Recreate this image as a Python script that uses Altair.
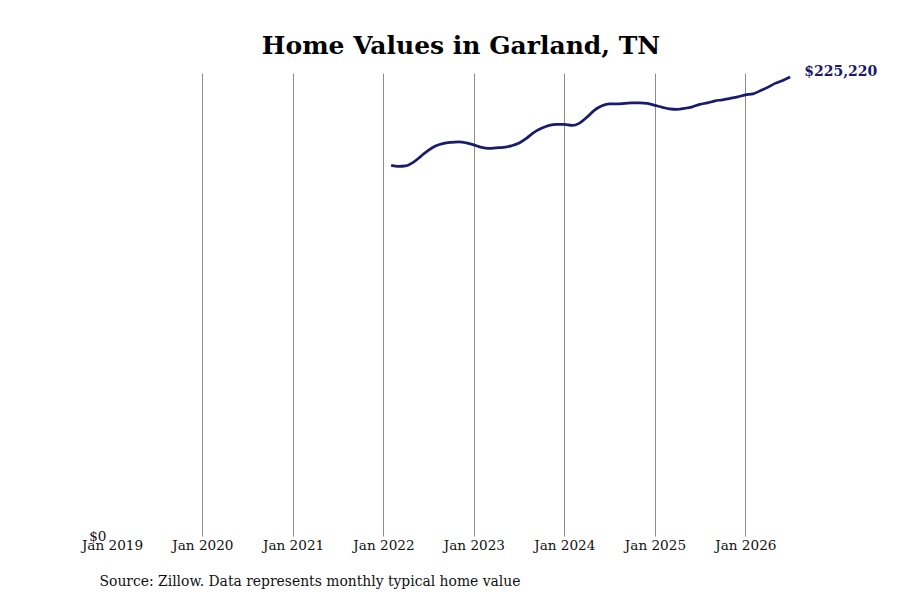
import altair as alt
import pandas as pd

# Monthly typical home values (Feb 2022 – Jul 2026)
months = [
    "2022-02", "2022-03", "2022-04", "2022-05", "2022-06", "2022-07", "2022-08", "2022-09",
    "2022-10", "2022-11", "2022-12",
    "2023-01", "2023-02", "2023-03", "2023-04", "2023-05", "2023-06", "2023-07", "2023-08",
    "2023-09", "2023-10", "2023-11", "2023-12",
    "2024-01", "2024-02", "2024-03", "2024-04", "2024-05", "2024-06", "2024-07", "2024-08",
    "2024-09", "2024-10", "2024-11", "2024-12",
    "2025-01", "2025-02", "2025-03", "2025-04", "2025-05", "2025-06", "2025-07", "2025-08",
    "2025-09", "2025-10", "2025-11", "2025-12",
    "2026-01", "2026-02", "2026-03", "2026-04", "2026-05", "2026-06", "2026-07",
]
values = [
    181900, 181410, 181660, 183370, 186310, 189250, 191460, 192690,
    193180, 193420, 192930,
    191950, 190720, 190230, 190480, 190720, 191460, 192690, 195140,
    198080, 200040, 201510, 202000,
    202000, 201510, 202500, 205440, 208870, 211080, 212060, 212060,
    212300, 212550, 212550, 212300,
    211320, 210340, 209600, 209360, 209850, 210590, 211810, 212550,
    213530, 214020, 214760, 215490,
    216470, 216960, 218430, 220150, 222110, 223570, 225220,
]
tick_years = [2019, 2020, 2021, 2022, 2023, 2024, 2025, 2026]

title_text = "Home Values in Garland, TN"
source_text = "Source: Zillow. Data represents monthly typical home value"
serif = "DejaVu Serif"
navy = "#1a1a6e"

df = pd.DataFrame({"date": [m + "-01T00:00:00" for m in months], "value": values})
last = df.tail(1).copy()
last["label"] = last["value"].map(lambda v: f"${v:,.0f}")

x_enc = alt.X(
    "date:T",
    scale=alt.Scale(
        domain=[alt.DateTime(year=2019, month=1, date=1), alt.DateTime(year=2026, month=9, date=19)],
        nice=False,
    ),
    axis=alt.Axis(
        values=[alt.DateTime(year=y, month=1, date=1) for y in tick_years],
        format="%b %Y",
        labelFont=serif,
        labelFontSize=13.6,
        labelColor="#111",
        labelPadding=2,
        labelFlush=False,
        labelOverlap=False,
        ticks=False,
        domain=False,
        grid=True,
        gridColor="#8c8c8c",
        gridWidth=1,
        gridOpacity=alt.expr("year(datum.value) == 2019 ? 0 : 1"),
        title=source_text,
        titleFont=serif,
        titleFontSize=13.9,
        titleFontWeight="normal",
        titleColor="#111",
        titleAlign="left",
        titleAnchor="start",
        titleBaseline="top",
        titleX=-13,
        titleY=38,
    ),
)
y_enc = alt.Y(
    "value:Q",
    scale=alt.Scale(domain=[0, 227200], nice=False, zero=True),
    axis=alt.Axis(
        values=[0],
        format="$,.0f",
        labelFont=serif,
        labelFontSize=13.6,
        labelColor="#111",
        labelPadding=6,
        labelFlush=False,
        ticks=False,
        domain=False,
        grid=False,
        title=None,
    ),
)

line = alt.Chart(df).mark_line(
    color=navy, strokeWidth=2.7, interpolate="monotone"
).encode(x=x_enc, y=y_enc)

label = alt.Chart(last).mark_text(
    align="left", baseline="middle", dx=14, dy=-5,
    font=serif, fontSize=14, fontWeight="bold", color=navy,
).encode(x="date:T", y="value:Q", text="label:N")

chart = (
    alt.layer(line, label)
    .properties(
        width=698,
        height=463,
        background="white",
        title=alt.TitleParams(
            title_text, font=serif, fontSize=25, fontWeight="bold", color="#000",
            anchor="middle", frame="group", offset=6,
        ),
        padding={"left": 73, "top": 26, "right": 5, "bottom": 5},
    )
    .configure_view(strokeWidth=0, stroke="transparent")
)

chart.save("out.html", embed_options={"renderer": "svg", "actions": False})
